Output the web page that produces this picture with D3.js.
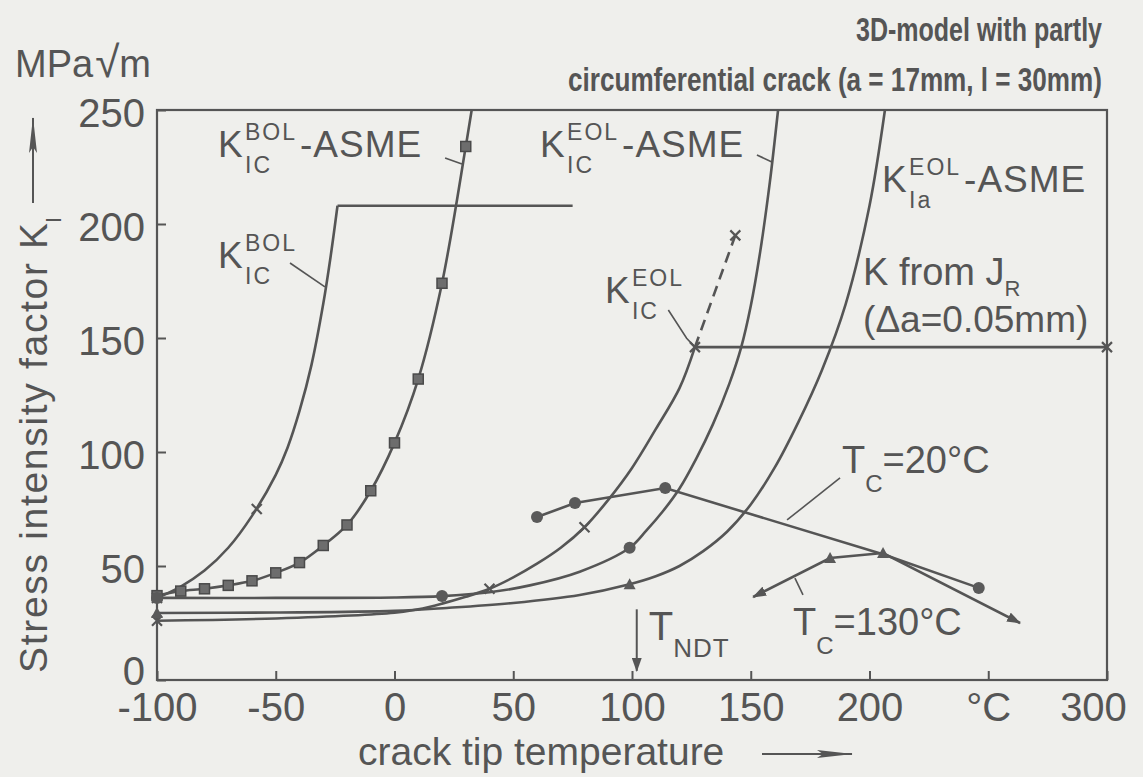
<!DOCTYPE html>
<html>
<head>
<meta charset="utf-8">
<script src="https://cdn.jsdelivr.net/npm/d3@7"></script>
<style>
  body { margin: 0; background: #efefec; }
  svg { display: block; }
  text { fill: #555; font-family: "Liberation Sans", Arial, sans-serif; }
</style>
</head>
<body>
<div id="chart"></div>
<script>
let w = 1143;
let h = 777;
let ink = "#555";

// values (crack tip temperature in °C, K in MPa√m)
let bolKicT = [-100, -90, -80, -70, -60, -50, -45, -40, -35, -30, -27, -24];
let bolKicK = [36, 41, 48, 58, 72, 90, 102, 118, 138, 165, 185, 208];
let bolKicMarks = [0];
let bolKicCross = [[-58, 75]];
let bolPlateauT = [-24, 75];
let bolPlateauK = [208, 208];

let bolAsmeT = [-100, -90, -80, -70, -60, -50, -40, -30, -20, -10, 0, 10, 20, 30, 32.5];
let bolAsmeK = [37, 39, 40, 41.5, 43.5, 47, 51.5, 59, 68, 83, 104, 132, 174, 234, 250];

let eolKicT = [-100, -50, 0, 10, 20, 30, 40, 50, 60, 70, 80, 90, 100, 110, 120, 126.5];
let eolKicK = [26, 27, 29.5, 31, 33.5, 36.5, 40, 45, 51, 58, 67, 79, 93, 110, 128, 146];
let eolKicMarks = [0, 6, 10, 15];
let eolKicDashT = [126.5, 143.5];
let eolKicDashK = [146, 195];

let eolAsmeT = [-100, -50, 0, 20, 40, 57, 78, 99, 106, 113, 120, 127, 134, 141, 146, 150, 154, 158, 161.5];
let eolAsmeK = [36, 36, 36.2, 36.8, 38.5, 41.5, 47.5, 58, 65.5, 74, 84, 97, 112, 130, 146, 164, 188, 218, 250];
let eolAsmeMarks = [0, 3, 7];

let eolKiaT = [-100, -50, 0, 22, 50, 78, 99, 110, 120, 130, 140, 150, 160, 170, 180, 190, 200, 206.5];
let eolKiaK = [29.4, 29.6, 30.3, 31.6, 33.8, 37.3, 42, 45.5, 50, 56.5, 65, 77, 93, 113, 136, 165, 208, 250];
let eolKiaMarks = [0, 6];

let jrT = [126.5, 300];
let jrK = [146, 146];

let tc20T = [60, 76, 114, 206, 246];
let tc20K = [71.5, 77.6, 84.2, 55, 40.4];
let tc20Marks = [0, 1, 2, 4];
let tc130T = [151, 183.4, 205.7, 263.4];
let tc130K = [36.4, 53.5, 55.7, 25];
let tc130Marks = [1, 2];

let tNDT = 102;

let xTicks = [-100, -50, 0, 50, 100, 150, 200, 250, 300];
let xTickLabels = ["-100", "-50", "0", "50", "100", "150", "200", "°C", "300"];
let yTicks = [0, 50, 100, 150, 200, 250];

let pts = (T, K) => T.map((t, i) => [t, K[i]]);

let svg = d3.select("#chart").append("svg")
  .attr("width", w)
  .attr("height", h)
  .style("background-color", "#efefec");

let defs = svg.append("defs");
defs.append("marker")
  .attr("id", "head")
  .attr("viewBox", "0 0 14 10")
  .attr("refX", 13).attr("refY", 5)
  .attr("markerWidth", 14).attr("markerHeight", 10)
  .attr("markerUnits", "userSpaceOnUse")
  .attr("orient", "auto-start-reverse")
  .append("path").attr("d", "M0,0 L14,5 L0,10 z").attr("fill", ink);
defs.append("marker")
  .attr("id", "longhead")
  .attr("viewBox", "0 0 36 10")
  .attr("refX", 35).attr("refY", 5)
  .attr("markerWidth", 36).attr("markerHeight", 10)
  .attr("markerUnits", "userSpaceOnUse")
  .attr("orient", "auto")
  .append("path").attr("d", "M0,1 L36,5 L0,9 L6,5 z").attr("fill", ink);

let x = d3.scaleLinear().domain([-100, 300]).range([157, 1107]);
let y = d3.scaleLinear().domain([0, 250]).range([680, 110]);

// axes (ticks point inwards)
let xAxis = d3.axisBottom(x).tickValues(xTicks)
  .tickFormat((d, i) => xTickLabels[i])
  .tickSizeInner(-9).tickSizeOuter(0).tickPadding(13);
let yAxis = d3.axisLeft(y).tickValues(yTicks)
  .tickSizeInner(-9).tickSizeOuter(0).tickPadding(12);

let xg = svg.append("g").attr("transform", "translate(0," + y(0) + ")").call(xAxis);
let yg = svg.append("g").attr("transform", "translate(" + x(-100) + ",0)").call(yAxis);
[xg, yg].forEach(g => {
  g.select(".domain").remove();
  g.selectAll("line").attr("stroke", ink).attr("stroke-width", 2);
  g.selectAll("text").attr("font-size", 40).attr("fill", ink)
    .attr("font-family", "Liberation Sans, Arial, sans-serif");
});
yg.selectAll("text").attr("dy", d => d === 0 ? "0.1em" : "0.42em");
xg.selectAll("text").filter(d => d === 300).attr("dx", -14);

svg.append("rect")
  .attr("x", x(-100)).attr("y", y(250))
  .attr("width", x(300) - x(-100)).attr("height", y(0) - y(250))
  .attr("fill", "none").attr("stroke", ink).attr("stroke-width", 2.2);

let smooth = d3.line().x(d => x(d[0])).y(d => y(d[1])).curve(d3.curveCatmullRom.alpha(0.5));
let straight = d3.line().x(d => x(d[0])).y(d => y(d[1]));

function drawLine(data, gen, dash) {
  return svg.append("path").datum(data)
    .attr("d", gen)
    .attr("fill", "none")
    .attr("stroke", ink)
    .attr("stroke-width", 2.6)
    .attr("stroke-dasharray", dash || null);
}

drawLine(pts(bolKicT, bolKicK), smooth);
drawLine(pts(bolPlateauT, bolPlateauK), straight);
drawLine(pts(bolAsmeT, bolAsmeK), smooth);
drawLine(pts(eolKicT, eolKicK), smooth);
drawLine(pts(eolKicDashT, eolKicDashK), straight, "11,7");
drawLine(pts(eolAsmeT, eolAsmeK), smooth);
drawLine(pts(eolKiaT, eolKiaK), smooth);
drawLine(pts(jrT, jrK), straight);
drawLine(pts(tc20T, tc20K), straight);
drawLine(pts(tc130T, tc130K), straight)
  .attr("marker-start", "url(#head)")
  .attr("marker-end", "url(#head)");

// markers
function squares(T, K) {
  svg.append("g").selectAll("rect").data(pts(T, K)).enter()
    .append("rect")
    .attr("x", d => x(d[0]) - 5).attr("y", d => y(d[1]) - 5)
    .attr("width", 10).attr("height", 10)
    .attr("fill", "#6d6d6d").attr("stroke", "#4a4a4a").attr("stroke-width", 1.5);
}
function dots(data) {
  svg.append("g").selectAll("circle").data(data).enter()
    .append("circle")
    .attr("cx", d => x(d[0])).attr("cy", d => y(d[1]))
    .attr("r", 6).attr("fill", "#5a5a5a");
}
function crosses(data, s) {
  svg.append("g").selectAll("path").data(data).enter()
    .append("path")
    .attr("d", d => {
      let cx = x(d[0]), cy = y(d[1]);
      return "M" + (cx - s) + "," + (cy - s) + "L" + (cx + s) + "," + (cy + s) +
        "M" + (cx - s) + "," + (cy + s) + "L" + (cx + s) + "," + (cy - s);
    })
    .attr("stroke", ink).attr("stroke-width", 2.2);
}
function triangles(data) {
  svg.append("g").selectAll("path").data(data).enter()
    .append("path")
    .attr("d", d => {
      let cx = x(d[0]), cy = y(d[1]);
      return "M" + (cx - 6) + "," + (cy + 5) + "L" + (cx + 6) + "," + (cy + 5) + "L" + cx + "," + (cy - 6) + "Z";
    })
    .attr("fill", "#5a5a5a");
}
let pick = (T, K, idx) => idx.map(i => [T[i], K[i]]);

squares(bolAsmeT.slice(0, -1), bolAsmeK.slice(0, -1));
crosses(pick(bolKicT, bolKicK, bolKicMarks).concat(bolKicCross), 5);
crosses(pick(eolKicT, eolKicK, eolKicMarks), 5);
crosses([[eolKicDashT[1], eolKicDashK[1]], [jrT[1], jrK[1]]], 5);
dots(pick(eolAsmeT, eolAsmeK, eolAsmeMarks));
triangles(pick(eolKiaT, eolKiaK, eolKiaMarks));
dots(pick(tc20T, tc20K, tc20Marks));
triangles(pick(tc130T, tc130K, tc130Marks));

// T_NDT arrow
svg.append("line")
  .attr("x1", x(tNDT)).attr("x2", x(tNDT))
  .attr("y1", y(31)).attr("y2", y(4))
  .attr("stroke", ink).attr("stroke-width", 2)
  .attr("marker-end", "url(#head)");

// labels
function kLabel(t, k, sup, sub, suffix) {
  let px = x(t), py = y(k);
  let g = svg.append("g");
  g.append("text").attr("x", px).attr("y", py).attr("font-size", 37).text("K");
  g.append("text").attr("x", px + 27).attr("y", py - 17).attr("font-size", 23)
    .attr("letter-spacing", 2).text(sup);
  g.append("text").attr("x", px + 27).attr("y", py + 16).attr("font-size", 23)
    .attr("letter-spacing", 2).text(sub);
  if (suffix) {
    g.append("text").attr("x", px + 82).attr("y", py).attr("font-size", 37)
      .attr("letter-spacing", 1).text(suffix);
  }
}
function leader(list) {
  svg.append("path").datum(list).attr("d", straight)
    .attr("fill", "none").attr("stroke", ink).attr("stroke-width", 1.6);
}

kLabel(-74.3, 229.4, "BOL", "IC", "-ASME");
leader([[21.3, 229], [28.4, 226.3]]);
kLabel(-74.3, 180.7, "BOL", "IC");
leader([[-44, 182.9], [-29.3, 172.4]]);
kLabel(61.3, 229.4, "EOL", "IC", "-ASME");
leader([[152.6, 230.3], [158.9, 227.2]]);
kLabel(88.6, 165.4, "EOL", "IC");
leader([[115.3, 162.3], [123, 149.9], [126.5, 146]]);
kLabel(205.3, 214, "EOL", "Ia", "-ASME");

let jr = svg.append("text").attr("x", x(197.3)).attr("y", y(173.2)).attr("font-size", 38);
jr.append("tspan").text("K  from  J");
jr.append("tspan").attr("font-size", 22).attr("dy", 11).text("R");
svg.append("text").attr("x", x(197.3)).attr("y", y(152.5)).attr("font-size", 37)
  .text("(\u0394a=0.05mm)");

function tcLabel(t, k, val) {
  let tx = svg.append("text").attr("x", x(t)).attr("y", y(k)).attr("font-size", 38);
  tx.append("tspan").text("T");
  tx.append("tspan").attr("font-size", 24).attr("dy", 19).text("C");
  tx.append("tspan").attr("dy", -19).text("=" + val + "°C");
}
tcLabel(188.4, 90.8, "20");
leader([[187.6, 88.6], [165.3, 70.2]]);
tcLabel(167.8, 19.7, "130");
leader([[172, 37.3], [168.6, 44.7]]);

let nd = svg.append("text").attr("x", x(tNDT) + 12).attr("y", y(17.5)).attr("font-size", 40);
nd.append("tspan").text("T");
nd.append("tspan").attr("font-size", 26).attr("dy", 17).attr("letter-spacing", 1).text("NDT");

// unit and axis titles
let unit = svg.append("text").attr("x", 15).attr("y", 77).attr("font-size", 38);
unit.append("tspan").text("MPa");
unit.append("tspan").attr("font-size", 44).attr("dx", 2).text("\u221A");
unit.append("tspan").text("m");

let yl = svg.append("g").attr("transform", "translate(47,673) rotate(-90)");
yl.append("text").attr("x", 0).attr("y", 0).attr("font-size", 39)
  .attr("textLength", 410).attr("lengthAdjust", "spacing")
  .text("Stress intensity factor");
let kI = yl.append("text").attr("x", 424).attr("y", 0).attr("font-size", 39);
kI.append("tspan").text("K");
kI.append("tspan").attr("font-size", 22).attr("dy", 14).text("I");
yl.append("line").attr("x1", 470).attr("x2", 555).attr("y1", -14).attr("y2", -14)
  .attr("stroke", ink).attr("stroke-width", 2)
  .attr("marker-end", "url(#longhead)");

svg.append("text").attr("x", 358).attr("y", 765).attr("font-size", 39)
  .text("crack tip temperature");
svg.append("line").attr("x1", 762).attr("x2", 852).attr("y1", 754).attr("y2", 754)
  .attr("stroke", ink).attr("stroke-width", 2)
  .attr("marker-end", "url(#longhead)");

// title in the top right corner, condensed by squeezing horizontally
let titleLines = [
  { text: "3D-model with partly", x: 856, y: 41, width: 246, sx: 0.73 },
  { text: "circumferential crack (a = 17mm, l = 30mm)", x: 568, y: 91, width: 534, sx: 0.765 }
];
titleLines.forEach(t => {
  svg.append("g")
    .attr("transform", "translate(" + t.x + "," + t.y + ") scale(" + t.sx + ",1)")
    .append("text")
    .attr("x", 0).attr("y", 0)
    .attr("font-size", 34).attr("font-weight", "bold")
    .attr("textLength", t.width / t.sx).attr("lengthAdjust", "spacingAndGlyphs")
    .text(t.text);
});
</script>
</body>
</html>
